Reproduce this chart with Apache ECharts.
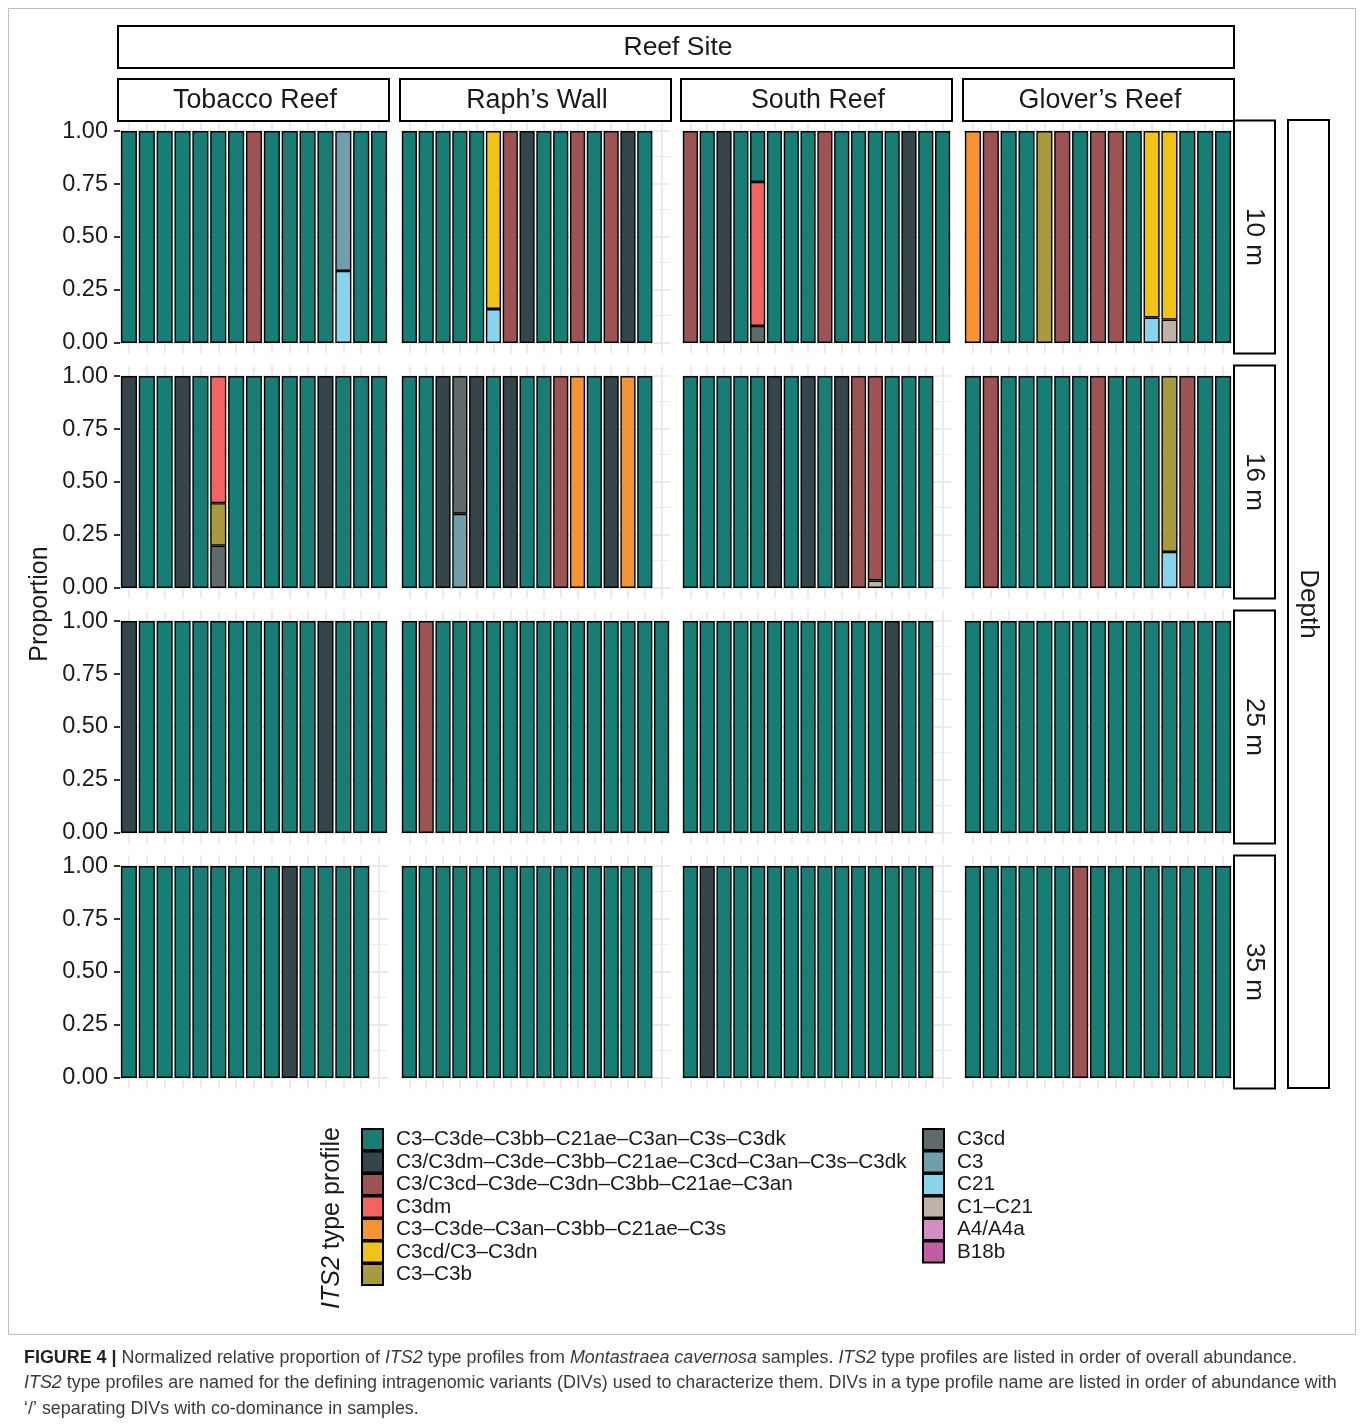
<!DOCTYPE html>
<html>
<head>
<meta charset="utf-8">
<title>ITS2 type profiles by reef site and depth</title>
<script src="https://cdn.jsdelivr.net/npm/echarts@6/dist/echarts.min.js"></script>
<style>
  html, body { margin: 0; padding: 0; background: #ffffff; }
  #chart { width: 1360px; height: 1425px; }
</style>
</head>
<body>
<div id="chart"></div>
<script>
// ITS2 type profiles, in order of overall abundance (legend order, top of each stack first)
const PROFILES = [
  'C3–C3de–C3bb–C21ae–C3an–C3s–C3dk',
  'C3/C3dm–C3de–C3bb–C21ae–C3cd–C3an–C3s–C3dk',
  'C3/C3cd–C3de–C3dn–C3bb–C21ae–C3an',
  'C3dm',
  'C3–C3de–C3an–C3bb–C21ae–C3s',
  'C3cd/C3–C3dn',
  'C3–C3b',
  'C3cd',
  'C3',
  'C21',
  'C1–C21',
  'A4/A4a',
  'B18b'
];
// short codes used in the sample tables below (same order as PROFILES)
const CODES = ['a', 'b', 'c', 'd', 'e', 'f', 'g', 'h', 'i', 'j', 'k', 'l', 'm'];
const COLORS = [
  '#187d75', '#36454a', '#9b5453', '#f26462', '#f49433', '#f0c417', '#a89a3e',
  '#5f6a6c', '#729eab', '#88d4ec', '#bfb2a6', '#d28dc2', '#c15ca6'
];

const SITES = ['Tobacco Reef', 'Raph’s Wall', 'South Reef', 'Glover’s Reef'];
const DEPTHS = ['10 m', '16 m', '25 m', '35 m'];
// number of sample positions on each site's x scale
const SITE_SLOTS = [15, 16, 16, 15];

const Y_TICKS = [0, 0.25, 0.5, 0.75, 1];
const Y_MAJOR = [0, 0.25, 0.5, 0.75, 1];
const Y_MINOR = [0.125, 0.375, 0.625, 0.875];

// Samples: a code alone = proportion 1 of that profile; objects give mixed proportions
const tobacco10 = ['a','a','a','a','a','a','a','c','a','a','a','a',{i:0.66, j:0.34},'a','a'];
const tobacco16 = ['b','a','a','b','a',{d:0.60, g:0.20, h:0.20},'a','a','a','a','a','b','a','a','a'];
const tobacco25 = ['b','a','a','a','a','a','a','a','a','a','a','b','a','a','a'];
const tobacco35 = ['a','a','a','a','a','a','a','a','a','b','a','a','a','a'];

const raph10 = ['a','a','a','a','a',{f:0.84, j:0.16},'c','b','a','a','c','a','c','b','a'];
const raph16 = ['a','a','b',{h:0.65, i:0.35},'b','a','b','a','a','c','e','a','b','e','a'];
const raph25 = ['a','c','a','a','a','a','a','a','a','a','a','a','a','a','a','a'];
const raph35 = ['a','a','a','a','a','a','a','a','a','a','a','a','a','a','a'];

const south10 = ['c','a','b','a',{a:0.24, d:0.68, h:0.08},'a','a','a','c','a','a','a','a','b','a','a'];
const south16 = ['a','a','a','a','a','b','a','b','a','b','c',{c:0.965, k:0.035},'a','a','a'];
const south25 = ['a','a','a','a','a','a','a','a','a','a','a','a','b','a','a'];
const south35 = ['a','b','a','a','a','a','a','a','a','a','a','a','a','a','a'];

const glover10 = ['e','c','a','a','g','c','a','c','c','a',{f:0.88, j:0.12},{f:0.89, k:0.11},'a','a','a'];
const glover16 = ['a','c','a','a','a','a','a','c','a','a','a',{g:0.83, j:0.17},'c','a','a'];
const glover25 = ['a','a','a','a','a','a','a','a','a','a','a','a','a','a','a'];
const glover35 = ['a','a','a','a','a','a','c','a','a','a','a','a','a','a','a'];

// [site][depth]
const PANELS = [
  [tobacco10, tobacco16, tobacco25, tobacco35],
  [raph10, raph16, raph25, raph35],
  [south10, south16, south25, south35],
  [glover10, glover16, glover25, glover35]
];

// ---- layout ----
const FONT = '"Liberation Sans", Arial, Helvetica, sans-serif';
const COL_X = [120, 401, 682, 964];
const COL_W = [268, 269, 269, 268];
const ROW_Y = [120.5, 365.5, 610.5, 855.5];
const ROW_H = 233;
const INK = '#1a1a1a';
const GRID_COLOR = '#ebebeb';

function share(sample, code) {
  if (sample === undefined) return null;
  if (typeof sample === 'string') return sample === code ? 1 : null;
  const v = sample[code];
  return v ? v : null;
}

const grids = [], xAxes = [], yAxes = [], series = [];

for (let c = 0; c < 4; c++) {
  const cats = Array.from({ length: SITE_SLOTS[c] }, (_, k) => String(k + 1));
  for (let r = 0; r < 4; r++) {
    const idx = grids.length;
    const samples = PANELS[c][r];
    grids.push({ left: COL_X[c], top: ROW_Y[r], width: COL_W[c], height: ROW_H, containLabel: false });
    xAxes.push({
      type: 'category', gridIndex: idx, data: cats, boundaryGap: true,
      axisLine: { show: false }, axisTick: { show: false },
      axisLabel: { show: false }, splitLine: { show: false }
    });
    yAxes.push({
      type: 'value', gridIndex: idx, min: -0.05, max: 1.05,
      axisLine: { show: false }, splitLine: { show: false },
      axisTick: {
        show: c === 0, customValues: Y_TICKS, length: 6,
        lineStyle: { color: '#333333', width: 2 }
      },
      axisLabel: {
        show: c === 0, customValues: Y_TICKS, margin: 12,
        formatter: v => v.toFixed(2), fontSize: 23.5, color: INK, fontFamily: FONT
      }
    });

    // panel grid lines, drawn behind the bars
    const lines = [];
    Y_MAJOR.forEach(v => lines.push({ yAxis: v, lineStyle: { width: 2 } }));
    Y_MINOR.forEach(v => lines.push({ yAxis: v, lineStyle: { width: 1 } }));
    cats.forEach(cat => lines.push({ xAxis: cat, lineStyle: { width: 2 } }));
    series.push({
      type: 'line', xAxisIndex: idx, yAxisIndex: idx, silent: true, z: 1,
      data: cats.map(() => null), symbol: 'none',
      markLine: {
        silent: true, symbol: 'none', animation: false,
        label: { show: false },
        lineStyle: { color: GRID_COLOR, type: 'solid' },
        data: lines
      }
    });

    // stacked bars: last profile at the bottom, first profile on top
    for (let p = PROFILES.length - 1; p >= 0; p--) {
      series.push({
        type: 'bar', name: PROFILES[p],
        xAxisIndex: idx, yAxisIndex: idx, stack: 'panel' + idx,
        barCategoryGap: '10%', z: 10,
        data: cats.map((_, k) => share(samples[k], CODES[p])),
        itemStyle: { color: COLORS[p], borderColor: '#000000', borderWidth: 1.4 },
        emphasis: { disabled: true }
      });
    }
  }
}

// ---- strips, titles, caption ----
const graphics = [];
function strip(x, y, w, h) {
  graphics.push({
    type: 'rect', silent: true, z: 20,
    shape: { x: x, y: y, width: w, height: h },
    style: { fill: '#ffffff', stroke: '#000000', lineWidth: 2 }
  });
}
function label(text, x, y, rot, size, extra) {
  graphics.push(Object.assign({
    type: 'text', silent: true, z: 21, x: x, y: y, rotation: rot || 0,
    style: {
      text: text, fill: INK, font: size + 'px ' + FONT,
      align: 'center', verticalAlign: 'middle'
    }
  }, extra || {}));
}

// figure frame
graphics.push({
  type: 'rect', silent: true, z: 0,
  shape: { x: 8.5, y: 8.5, width: 1347, height: 1326 },
  style: { fill: 'none', stroke: '#bdbdbd', lineWidth: 1 }
});

// top strips
strip(118, 26, 1116, 42);
label('Reef Site', 678, 47.5, 0, 26.5);
const STRIP_X = [118, 400, 681, 963];
SITES.forEach((s, c) => {
  strip(STRIP_X[c], 79, 271, 42);
  label(s, STRIP_X[c] + 137, 100.5, 0, 26.8);
});
// right strips
DEPTHS.forEach((d, r) => {
  strip(1234, ROW_Y[r], 41, ROW_H);
  label(d, 1254.5, ROW_Y[r] + ROW_H / 2, -Math.PI / 2, 26);
});
strip(1288, 120, 41, 968);
label('Depth', 1308.5, 604, -Math.PI / 2, 26);

// y axis title
label('Proportion', 40, 604, Math.PI / 2, 25);

// legend title
graphics.push({
  type: 'text', silent: true, z: 21, x: 332, y: 1218, rotation: Math.PI / 2,
  style: {
    text: '{i|ITS2} type profile', fill: INK, font: '25px ' + FONT,
    align: 'center', verticalAlign: 'middle',
    rich: { i: { fontStyle: 'italic', fontSize: 25, fontFamily: FONT, fill: INK } }
  }
});

// caption
const CAP = '#3a3a3a';
const CAP_SIZE = 17.9;
const capRich = {
  b: { fontWeight: 'bold', fontSize: CAP_SIZE, fontFamily: FONT, fill: '#222222' },
  i: { fontStyle: 'italic', fontSize: CAP_SIZE, fontFamily: FONT, fill: CAP }
};
const CAPTION = [
  '{b|FIGURE 4 |} Normalized relative proportion of {i|ITS2} type profiles from {i|Montastraea cavernosa} samples. {i|ITS2} type profiles are listed in order of overall abundance.',
  '{i|ITS2} type profiles are named for the defining intragenomic variants (DIVs) used to characterize them. DIVs in a type profile name are listed in order of abundance with',
  '‘/’ separating DIVs with co-dominance in samples.'
];
CAPTION.forEach((t, n) => {
  graphics.push({
    type: 'text', silent: true, z: 21, x: 24, y: 1358 + n * 25.5,
    style: {
      text: t, fill: CAP, font: CAP_SIZE + 'px ' + FONT,
      align: 'left', verticalAlign: 'middle', rich: capRich
    }
  });
});

const legendBase = {
  orient: 'vertical', icon: 'rect', itemWidth: 21, itemHeight: 21, itemGap: -0.5,
  padding: 0, selectedMode: false, top: 1128,
  textStyle: { fontSize: 20.7, lineHeight: 21, color: INK, fontFamily: FONT, padding: [0, 0, 0, 8] }
};

const option = {
  animation: false,
  backgroundColor: '#ffffff',
  textStyle: { fontFamily: FONT },
  grid: grids,
  xAxis: xAxes,
  yAxis: yAxes,
  legend: [
    Object.assign({}, legendBase, { left: 361, data: PROFILES.slice(0, 7) }),
    Object.assign({}, legendBase, { left: 922, data: PROFILES.slice(7) })
  ],
  series: series,
  graphic: graphics
};

const chart = echarts.init(document.getElementById('chart'), null, { renderer: 'canvas' });
chart.setOption(option);
</script>
</body>
</html>
